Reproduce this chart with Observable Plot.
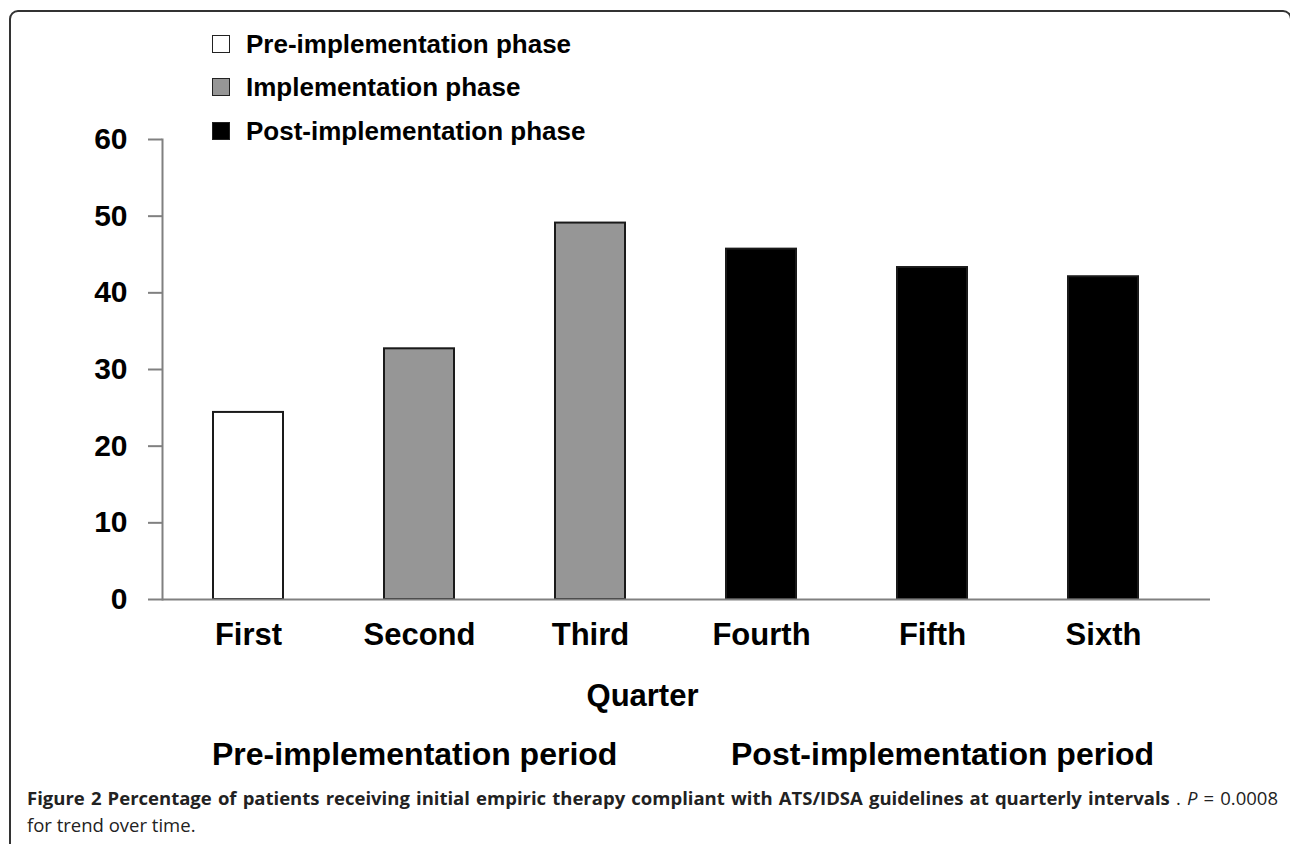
<!DOCTYPE html>
<html>
<head>
<meta charset="utf-8">
<script src="https://cdn.jsdelivr.net/npm/d3@7"></script>
<script src="https://cdn.jsdelivr.net/npm/@observablehq/plot@0.6"></script>
<style>
  body { margin:0; width:1290px; height:844px; overflow:hidden; background:#fff; position:relative; }
  #border { position:absolute; left:9px; top:10px; width:1283px; height:900px; border:2px solid #333; border-radius:9px; box-sizing:border-box; }
  .lg { position:absolute; left:212px; height:26px; display:flex; align-items:center; font-family:"Liberation Sans", Arial, sans-serif; font-weight:bold; font-size:26px; line-height:26px; color:#000; white-space:nowrap; }
  .lg .sw { width:16px; height:16px; border:1.5px solid #222; margin-right:16px; }
  #chart { position:absolute; left:0; top:110px; }
  .period { position:absolute; top:738px; font-family:"Liberation Sans", Arial, sans-serif; font-weight:bold; font-size:32px; line-height:32px; white-space:nowrap; }
  #caption { position:absolute; left:27px; top:784px; width:1251px; font-family:"Open Sans", sans-serif; font-size:18.5px; line-height:27px; color:#222; }
  #caption .l1 { display:block; text-align:justify; text-align-last:justify; white-space:nowrap; }
  #caption b { font-weight:700; }
</style>
</head>
<body>
<div id="border"></div>
<div id="legend"></div>
<div id="chart"></div>
<div id="periods"></div>
<div id="caption"><span class="l1"><b>Figure 2 Percentage of patients receiving initial empiric therapy compliant with ATS/IDSA guidelines at quarterly intervals</b> . <i>P</i> = 0.0008</span>for trend over time.</div>
<script>
const quarters = ["First", "Second", "Third", "Fourth", "Fifth", "Sixth"];
const values = [24.4, 32.7, 49.1, 45.7, 43.3, 42.1];
const barPhases = ["Pre-implementation phase", "Implementation phase", "Implementation phase",
  "Post-implementation phase", "Post-implementation phase", "Post-implementation phase"];
const phaseNames = ["Pre-implementation phase", "Implementation phase", "Post-implementation phase"];
const phaseColors = ["#ffffff", "#969696", "#000000"];
const yTicks = [0, 10, 20, 30, 40, 50, 60];
const periodLabels = ["Pre-implementation period", "Post-implementation period"];
const xLabel = "Quarter";

const data = quarters.map((q, i) => ({quarter: q, value: values[i], phase: barPhases[i]}));

// Legend (HTML above the SVG)
const legendTops = [31, 74, 118];
const legend = document.getElementById("legend");
phaseNames.forEach((name, i) => {
  const row = document.createElement("div");
  row.className = "lg";
  row.style.top = legendTops[i] + "px";
  const sw = document.createElement("div");
  sw.className = "sw";
  sw.style.background = phaseColors[i];
  row.appendChild(sw);
  row.appendChild(document.createTextNode(name));
  legend.appendChild(row);
});

const font = "'Liberation Sans', Arial, sans-serif";
const chart = Plot.plot({
  width: 1290,
  height: 609,
  marginTop: 29,
  marginBottom: 120,
  marginLeft: 162,
  marginRight: 80,
  style: {fontFamily: font, fontWeight: "bold", color: "#000", background: "transparent", overflow: "visible"},
  x: {type: "band", domain: quarters, range: [162, 1190], paddingInner: 0.59, paddingOuter: 0.295, axis: null},
  y: {domain: [0, 60], axis: null},
  color: {type: "ordinal", domain: phaseNames, range: phaseColors},
  marks: [
    Plot.barY(data, {x: "quarter", y: "value", fill: "phase", stroke: "#1a1a1a", strokeWidth: 2}),
    Plot.ruleY([0], {stroke: "#808080", strokeWidth: 2}),
    Plot.frame({anchor: "left", stroke: "#808080", strokeWidth: 2}),
    Plot.axisY({ticks: yTicks, tickSize: 14, tickPadding: 21, stroke: "#808080", strokeWidth: 2,
      fontSize: 30, fontWeight: "bold", fill: "#000", label: null}),
    Plot.axisX({tickSize: 0, tickPadding: 23, fontSize: 31, fontWeight: "bold", fill: "#000", label: null}),
    Plot.text([xLabel], {frameAnchor: "bottom", dx: -44, dy: 106, lineAnchor: "bottom",
      fontSize: 31, fontWeight: "bold", fill: "#000"})
  ]
});
document.getElementById("chart").appendChild(chart);

// Period labels below the SVG
const periodLefts = [212, 731];
const periods = document.getElementById("periods");
periodLabels.forEach((t, i) => {
  const d = document.createElement("div");
  d.className = "period";
  d.style.left = periodLefts[i] + "px";
  d.textContent = t;
  periods.appendChild(d);
});
</script>
</body>
</html>
